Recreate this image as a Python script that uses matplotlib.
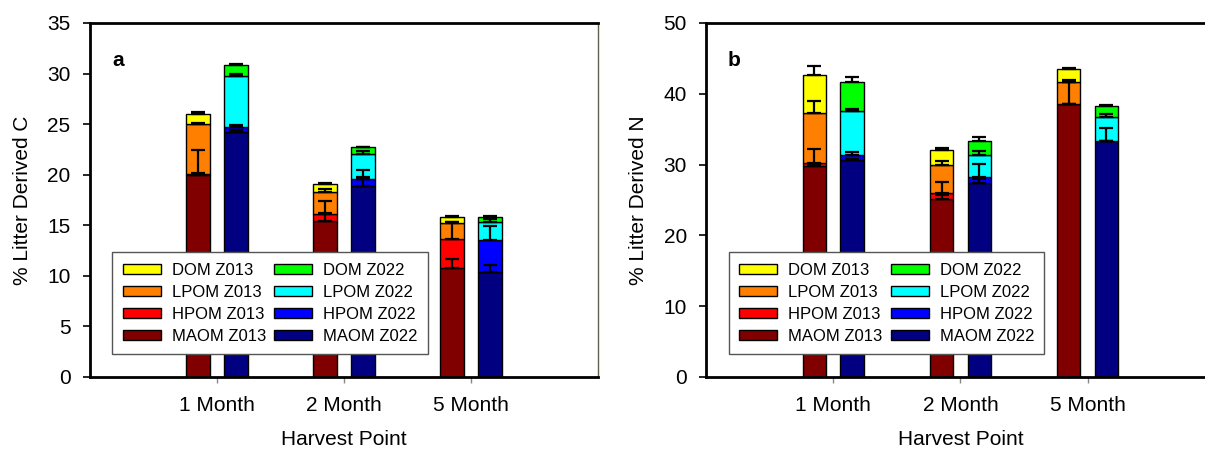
import matplotlib
matplotlib.use("Agg")
import matplotlib.pyplot as plt
import numpy as np
from matplotlib.patches import Patch

plt.rcParams['font.family'] = ['Liberation Sans', 'DejaVu Sans']

months = ['1 Month', '2 Month', '5 Month']
fractions = ['MAOM', 'HPOM', 'LPOM', 'DOM']

# segment thickness (% litter derived), bottom to top
c_z013 = {'MAOM': [20.0, 15.4, 10.75], 'HPOM': [0.1, 0.7, 2.85],
          'LPOM': [4.9, 2.2, 1.6], 'DOM': [1.0, 0.8, 0.6]}
c_z013_err = {'MAOM': [2.4, 0.8, 0.9], 'HPOM': [0.05, 1.3, 1.75],
              'LPOM': [0.1, 0.25, 0.1], 'DOM': [0.2, 0.1, 0.07]}
c_z022 = {'MAOM': [24.25, 18.85, 10.35], 'HPOM': [0.45, 0.75, 3.15],
          'LPOM': [5.05, 2.4, 1.8], 'DOM': [1.05, 0.7, 0.5]}
c_z022_err = {'MAOM': [0.2, 0.95, 0.7], 'HPOM': [0.2, 0.85, 1.4],
              'LPOM': [0.2, 0.3, 0.3], 'DOM': [0.1, 0.05, 0.13]}

n_z013 = {'MAOM': [29.83, 25.2, 38.6], 'HPOM': [0.37, 0.8, 0.0],
          'LPOM': [7.1, 4.0, 3.1], 'DOM': [5.35, 2.1, 1.8]}
n_z013_err = {'MAOM': [0.3, 0.5, 3.1], 'HPOM': [2.0, 1.55, 0.0],
              'LPOM': [1.7, 0.5, 0.2], 'DOM': [1.3, 0.3, 0.2]}
n_z022 = {'MAOM': [30.6, 27.4, 33.35], 'HPOM': [0.75, 0.9, 0.0],
          'LPOM': [6.25, 3.1, 3.4], 'DOM': [4.0, 2.0, 1.55]}
n_z022_err = {'MAOM': [0.2, 0.6, 1.85], 'HPOM': [0.45, 1.8, 0.0],
              'LPOM': [0.25, 0.5, 0.45], 'DOM': [0.8, 0.5, 0.15]}

colors_z013 = {'MAOM': '#800000', 'HPOM': '#ff0000', 'LPOM': '#ff8000', 'DOM': '#ffff00'}
colors_z022 = {'MAOM': '#000080', 'HPOM': '#0000ff', 'LPOM': '#00ffff', 'DOM': '#00ff00'}

panels = [
    {'vals': [(c_z013, c_z013_err, colors_z013, 'Z013'), (c_z022, c_z022_err, colors_z022, 'Z022')],
     'ylabel': '% Litter Derived C', 'ymax': 35, 'ystep': 5, 'tag': 'a', 'left': 90},
    {'vals': [(n_z013, n_z013_err, colors_z013, 'Z013'), (n_z022, n_z022_err, colors_z022, 'Z022')],
     'ylabel': '% Litter Derived N', 'ymax': 50, 'ystep': 10, 'tag': 'b', 'left': 706.3},
]

W, H = 1205, 453
fig = plt.figure(figsize=(W / 100, H / 100), dpi=100)

x = np.arange(1, len(months) + 1)
width = 0.186
offsets = [-0.149, 0.149]

for panel in panels:
    ax = fig.add_axes([panel['left'] / W, (H - 377) / H, 508.3 / W, 354 / H])
    handles = {}
    errs = []
    for (vals, err, cols, yr), off in zip(panel['vals'], offsets):
        bottom = np.zeros(len(months))
        for f in fractions:
            v = np.array(vals[f])
            ax.bar(x + off, v, width, bottom=bottom, color=cols[f],
                   edgecolor='black', linewidth=1, zorder=2)
            top = bottom + v
            errs.append((x + off, top, np.array(err[f])))
            bottom = top
            handles[(f, yr)] = Patch(facecolor=cols[f], edgecolor='black',
                                     linewidth=1, label=f + ' ' + yr)
    for xe, ye, ee in errs:
        ax.errorbar(xe, ye, yerr=[np.zeros_like(ee), ee], fmt='none', ecolor='black',
                    elinewidth=1.6, capsize=5, capthick=1.6, zorder=3)

    ax.set_xlim(0, 4)
    ax.set_ylim(0, panel['ymax'])
    ax.set_yticks(np.arange(0, panel['ymax'] + 1, panel['ystep']))
    ax.set_xticks(x)
    ax.set_xticklabels(months)
    ax.tick_params(axis='y', direction='out', length=5, width=1.2, labelsize=15, pad=9)
    ax.tick_params(axis='x', direction='out', length=4, width=1, color='#888888',
                   labelsize=15, pad=10)
    for s in ['left', 'bottom', 'top']:
        ax.spines[s].set_linewidth(2)
    ax.spines['right'].set_linewidth(1)
    ax.spines['right'].set_color('#606050')
    ax.set_ylabel(panel['ylabel'], fontsize=15)
    ax.yaxis.set_label_coords(-0.115, 0.5)
    ax.set_xlabel('Harvest Point', fontsize=15)
    ax.xaxis.set_label_coords(0.5, -0.15)
    ax.text(0.055, 0.895, panel['tag'], transform=ax.transAxes, fontsize=15,
            fontweight='bold', ha='center', va='center')

    order = [(f, 'Z013') for f in fractions[::-1]] + [(f, 'Z022') for f in fractions[::-1]]
    leg = ax.legend(handles=[handles[k] for k in order], ncol=2, loc='lower left',
                    bbox_to_anchor=(0.044, 0.064), borderaxespad=0, fontsize=12,
                    fancybox=False, edgecolor='#555555', framealpha=1,
                    handlelength=2.28, handleheight=0.56, labelspacing=0.43,
                    handletextpad=0.66, columnspacing=0.5, borderpad=0.62)
    leg.get_frame().set_linewidth(1)
    leg.set_zorder(5)

fig.savefig('out.png', dpi=100)
